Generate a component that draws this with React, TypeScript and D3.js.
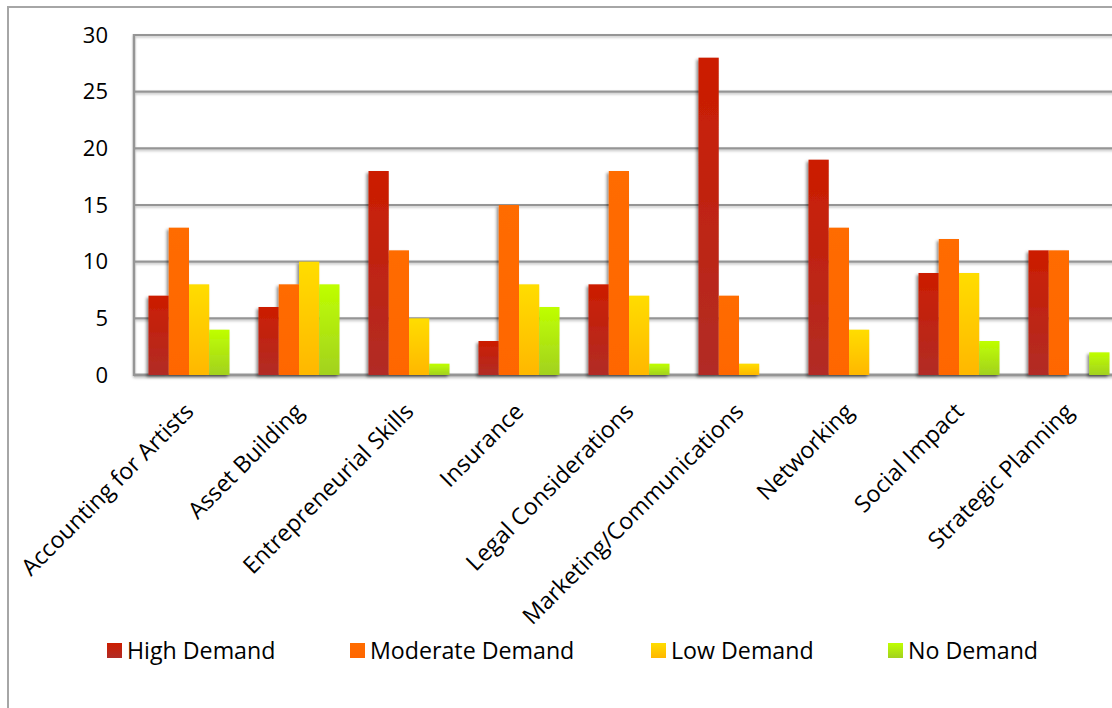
import React, { useEffect } from 'react';
import * as d3 from 'd3';

// chart data
const categories = [
  'Accounting for Artists',
  'Asset Building',
  'Entrepreneurial Skills',
  'Insurance',
  'Legal Considerations',
  'Marketing/Communications',
  'Networking',
  'Social Impact',
  'Strategic Planning',
];
const seriesNames = ['High Demand', 'Moderate Demand', 'Low Demand', 'No Demand'];
const highDemand = [7, 6, 18, 3, 8, 28, 19, 9, 11];
const moderateDemand = [13, 8, 11, 15, 18, 7, 13, 12, 11];
const lowDemand = [8, 10, 5, 8, 7, 1, 4, 9, 0];
const noDemand = [4, 8, 1, 6, 1, 0, 0, 3, 2];
const yTicks = [0, 5, 10, 15, 20, 25, 30];

const seriesValues = [highDemand, moderateDemand, lowDemand, noDemand];
// top / bottom gradient stops per series
const gradients = [
  ['#cc1d00', '#b12c26'],
  ['#ff6c00', '#ff6600'],
  ['#ffdd00', '#ffb700'],
  ['#bfff00', '#a2d11f'],
];

const W = 1112;
const H = 708;
const FONT = '"Open Sans", Lato, sans-serif';

export default function App() {
  useEffect(() => {
    document.body.style.margin = '0';
  }, []);

  const x0 = d3.scaleBand<string>()
    .domain(categories)
    .range([134, 1124])
    .paddingInner(29 / 110)
    .paddingOuter(29 / 220);
  const x1 = d3.scaleBand<string>()
    .domain(seriesNames)
    .range([0, x0.bandwidth()]);
  const y = d3.scaleLinear().domain([0, 30]).range([375, 35]);

  const legendX = [107, 350, 651, 888];

  return (
    <svg width={W} height={H} style={{ display: 'block', background: '#fff' }}>
      <defs>
        {gradients.map((g, i) => (
          <linearGradient key={i} id={`grad${i}`} x1="0" y1="0" x2="0" y2="1">
            <stop offset="0%" stopColor={g[0]} />
            <stop offset="100%" stopColor={g[1]} />
          </linearGradient>
        ))}
        <filter id="shadow" x="-20%" y="-20%" width="140%" height="140%">
          <feDropShadow dx="-2" dy="2" stdDeviation="1.8" floodColor="#000" floodOpacity="0.45" />
        </filter>
        <filter id="lineShadow" x="-5%" y="-200%" width="110%" height="500%">
          <feDropShadow dx="0" dy="1.5" stdDeviation="1" floodColor="#000" floodOpacity="0.25" />
        </filter>
      </defs>

      {/* outer chart border */}
      <rect x={8} y={7} width={W + 20} height={H + 20} fill="none" stroke="#a6a6a6" strokeWidth={2} />

      {/* gridlines */}
      <g filter="url(#lineShadow)">
        {yTicks.map((t) => (
          <line key={t} x1={134} x2={1124} y1={y(t)} y2={y(t)} stroke="#959595" strokeWidth={t === 0 ? 3 : 2.2} />
        ))}
        <line x1={134} x2={134} y1={y(30) - 1} y2={y(0) + 1} stroke="#959595" strokeWidth={2.5} />
      </g>

      {/* y tick labels */}
      {yTicks.map((t) => (
        <text key={t} x={108} y={y(t)} dy="0.35em" textAnchor="end" fontFamily={FONT} fontSize={22} fill="#000">
          {t}
        </text>
      ))}

      {/* bars */}
      {categories.map((c, ci) => (
        <g key={c} transform={`translate(${x0(c)},0)`} filter="url(#shadow)">
          {seriesNames.map((s, si) => {
            const v = seriesValues[si][ci];
            if (!v) return null;
            return (
              <rect
                key={s}
                x={x1(s)}
                y={y(v)}
                width={x1.bandwidth()}
                height={y(0) - y(v)}
                fill={`url(#grad${si})`}
              />
            );
          })}
        </g>
      ))}

      {/* category labels */}
      {categories.map((c) => {
        const cx = (x0(c) as number) + x0.bandwidth() / 2 + 6;
        const cy = 413;
        return (
          <text
            key={c}
            transform={`translate(${cx},${cy}) rotate(-45)`}
            textAnchor="end"
            fontFamily={FONT}
            fontSize={23.2}
            fill="#000"
          >
            {c}
          </text>
        );
      })}

      {/* legend */}
      {seriesNames.map((s, i) => (
        <g key={s} transform={`translate(${legendX[i]},643)`}>
          <rect width={15} height={15} fill={`url(#grad${i})`} />
          <text x={20} y={16} fontFamily={FONT} fontSize={23.2} fill="#000">
            {s}
          </text>
        </g>
      ))}
    </svg>
  );
}
